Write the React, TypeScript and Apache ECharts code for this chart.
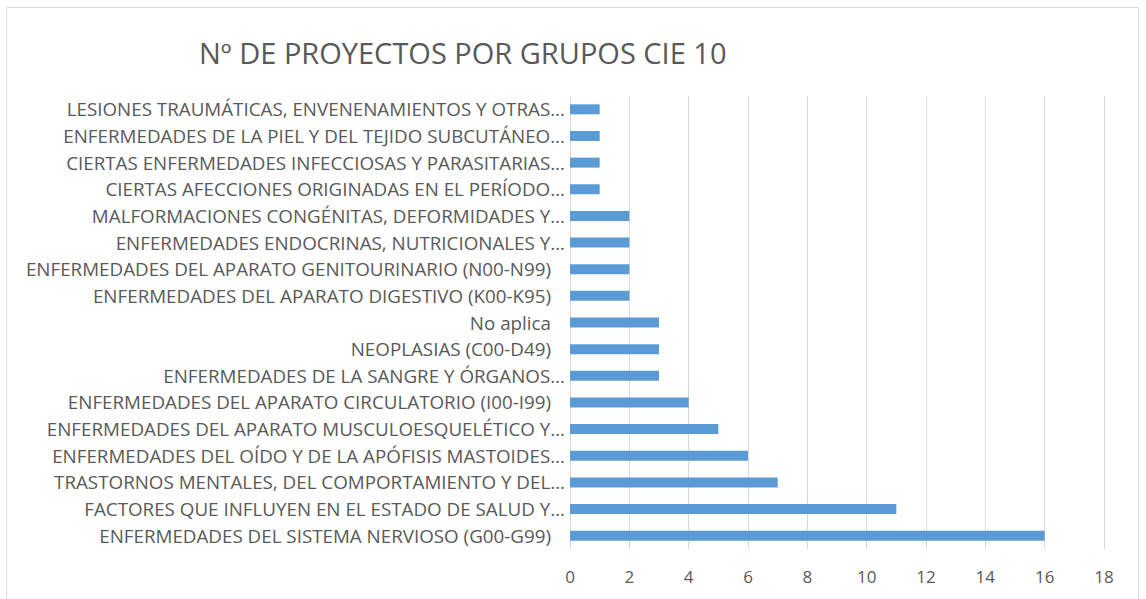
import React, { useEffect, useRef } from "react";
import * as echarts from "echarts";

const TITLE = "Nº DE PROYECTOS POR GRUPOS CIE 10";

// Bottom to top order (as drawn from the value axis upward)
const categories: string[] = [
  "ENFERMEDADES DEL SISTEMA NERVIOSO (G00-G99) ",
  "FACTORES QUE INFLUYEN EN EL ESTADO DE SALUD Y...",
  "TRASTORNOS MENTALES, DEL COMPORTAMIENTO Y DEL...",
  "ENFERMEDADES DEL OÍDO Y DE LA APÓFISIS MASTOIDES...",
  "ENFERMEDADES DEL APARATO MUSCULOESQUELÉTICO Y...",
  "ENFERMEDADES DEL APARATO CIRCULATORIO (I00-I99) ",
  "ENFERMEDADES DE LA SANGRE Y ÓRGANOS...",
  "NEOPLASIAS (C00-D49) ",
  "No aplica ",
  "ENFERMEDADES DEL APARATO DIGESTIVO (K00-K95) ",
  "ENFERMEDADES DEL APARATO GENITOURINARIO (N00-N99) ",
  "ENFERMEDADES ENDOCRINAS, NUTRICIONALES Y...",
  "MALFORMACIONES CONGÉNITAS, DEFORMIDADES Y...",
  "CIERTAS AFECCIONES ORIGINADAS EN EL PERÍODO...",
  "CIERTAS ENFERMEDADES INFECCIOSAS Y PARASITARIAS...",
  "ENFERMEDADES DE LA PIEL Y DEL TEJIDO SUBCUTÁNEO...",
  "LESIONES TRAUMÁTICAS, ENVENENAMIENTOS Y OTRAS...",
];

const values: number[] = [16, 11, 7, 6, 5, 4, 3, 3, 3, 2, 2, 2, 2, 1, 1, 1, 1];

const X_MIN = 0;
const X_MAX = 18;
const X_STEP = 2;

const FONT = "'Open Sans', 'Noto Sans', sans-serif";
const TEXT_COLOR = "#595959";
const GRID_COLOR = "#d9d9d9";
const BAR_COLOR = "#5b9bd5";
const LABEL_SIZE = 18.8;

export default function App() {
  const ref = useRef<HTMLDivElement>(null);

  useEffect(() => {
    if (!ref.current) return;
    const chart = echarts.init(ref.current, null, { renderer: "svg" });
    chart.setOption({
      animation: false,
      backgroundColor: "#ffffff",
      textStyle: { fontFamily: FONT },
      title: {
        text: TITLE,
        left: 194,
        top: 33,
        textStyle: {
          fontFamily: FONT,
          fontSize: 29,
          fontWeight: "normal",
          color: TEXT_COLOR,
        },
      },
      graphic: [
        {
          type: "rect",
          shape: { x: 6.5, y: 7.5, width: 1132, height: 600 },
          style: { fill: "none", stroke: GRID_COLOR, lineWidth: 1 },
          silent: true,
        },
      ],
      grid: {
        left: 570,
        right: 42,
        top: 96,
        bottom: 50,
        containLabel: false,
      },
      xAxis: {
        type: "value",
        min: X_MIN,
        max: X_MAX,
        interval: X_STEP,
        axisLine: { show: false },
        axisTick: { show: false },
        splitLine: { show: true, lineStyle: { color: GRID_COLOR, width: 1 } },
        axisLabel: {
          color: TEXT_COLOR,
          fontSize: 17,
          fontFamily: FONT,
          margin: 19,
        },
      },
      yAxis: {
        type: "category",
        data: categories,
        axisLine: { show: true, lineStyle: { color: GRID_COLOR, width: 1 } },
        axisTick: { show: false },
        splitLine: { show: false },
        axisLabel: {
          color: TEXT_COLOR,
          fontSize: LABEL_SIZE,
          fontFamily: FONT,
          margin: 5,
          formatter: (v: string) =>
            /\s$/.test(v) ? "{p|" + v.trim() + "}" : "{n|" + v + "}",
          rich: {
            p: {
              color: TEXT_COLOR,
              fontSize: LABEL_SIZE,
              fontFamily: FONT,
              padding: [0, 14, 0, 0],
            },
            n: {
              color: TEXT_COLOR,
              fontSize: LABEL_SIZE,
              fontFamily: FONT,
            },
          },
        },
      },
      series: [
        {
          type: "bar",
          data: values,
          barWidth: 10,
          itemStyle: { color: BAR_COLOR },
        },
      ],
    });
    return () => chart.dispose();
  }, []);

  return (
    <div
      ref={ref}
      style={{ position: "absolute", left: 0, top: 0, width: 1146, height: 599 }}
    />
  );
}
